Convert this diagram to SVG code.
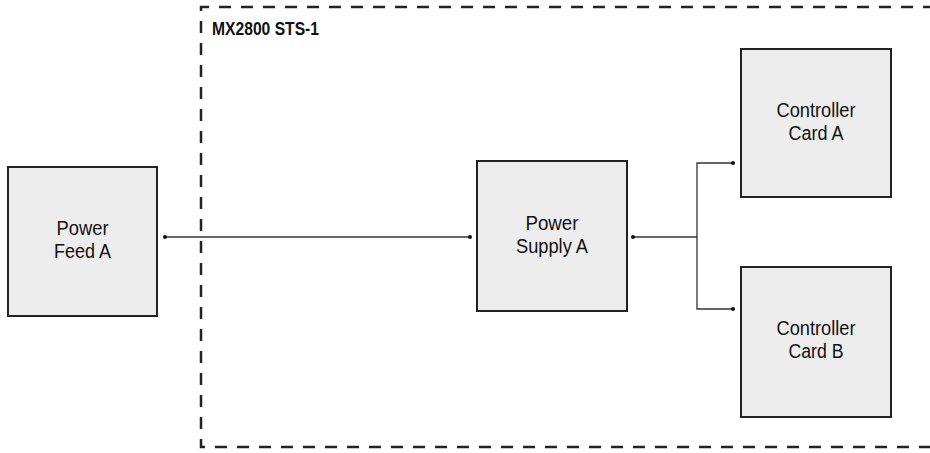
<svg xmlns="http://www.w3.org/2000/svg" width="930" height="453" viewBox="0 0 930 453">
<style>
.box{fill:#ededed;stroke:#222;stroke-width:2}
.lbl{font-family:"Liberation Sans",Arial,sans-serif;font-size:20px;fill:#111;text-anchor:middle}
.wire{fill:none;stroke:#333;stroke-width:1.3}
.dot{fill:#111}
.frame{fill:none;stroke:#222;stroke-width:2.5;stroke-dasharray:12 10}
.title{font-family:"Liberation Sans",Arial,sans-serif;font-size:17.5px;font-weight:bold;fill:#111}
</style>
<g id="frame">
<path class="frame" d="M935,7 H201 V447 H935"/>
<text class="title" x="212" y="35" textLength="107" lengthAdjust="spacingAndGlyphs">MX2800 STS-1</text>
</g>
<g id="connectors">
<path class="wire" d="M165,237 H470"/>
<path class="wire" d="M633,237 H697"/>
<path class="wire" d="M733,163 H697 V309 H733"/>
<circle class="dot" cx="165" cy="237" r="2"/>
<circle class="dot" cx="470" cy="237" r="2"/>
<circle class="dot" cx="633" cy="237" r="2"/>
<circle class="dot" cx="733" cy="163" r="2"/>
<circle class="dot" cx="733" cy="309" r="2"/>
</g>
<g id="power-feed-a">
<rect class="box" x="8" y="167" width="149" height="149"/>
<text class="lbl" x="82.5" y="235" textLength="52" lengthAdjust="spacingAndGlyphs">Power</text>
<text class="lbl" x="82.5" y="258" textLength="57" lengthAdjust="spacingAndGlyphs">Feed A</text>
</g>
<g id="power-supply-a">
<rect class="box" x="477" y="161" width="150" height="150"/>
<text class="lbl" x="552" y="230" textLength="53" lengthAdjust="spacingAndGlyphs">Power</text>
<text class="lbl" x="552" y="253" textLength="72" lengthAdjust="spacingAndGlyphs">Supply A</text>
</g>
<g id="controller-card-a">
<rect class="box" x="741" y="49" width="150" height="148"/>
<text class="lbl" x="816" y="117" textLength="79" lengthAdjust="spacingAndGlyphs">Controller</text>
<text class="lbl" x="816" y="140" textLength="55" lengthAdjust="spacingAndGlyphs">Card A</text>
</g>
<g id="controller-card-b">
<rect class="box" x="741" y="267" width="150" height="150"/>
<text class="lbl" x="816" y="335" textLength="79" lengthAdjust="spacingAndGlyphs">Controller</text>
<text class="lbl" x="816" y="358" textLength="55" lengthAdjust="spacingAndGlyphs">Card B</text>
</g>
</svg>
